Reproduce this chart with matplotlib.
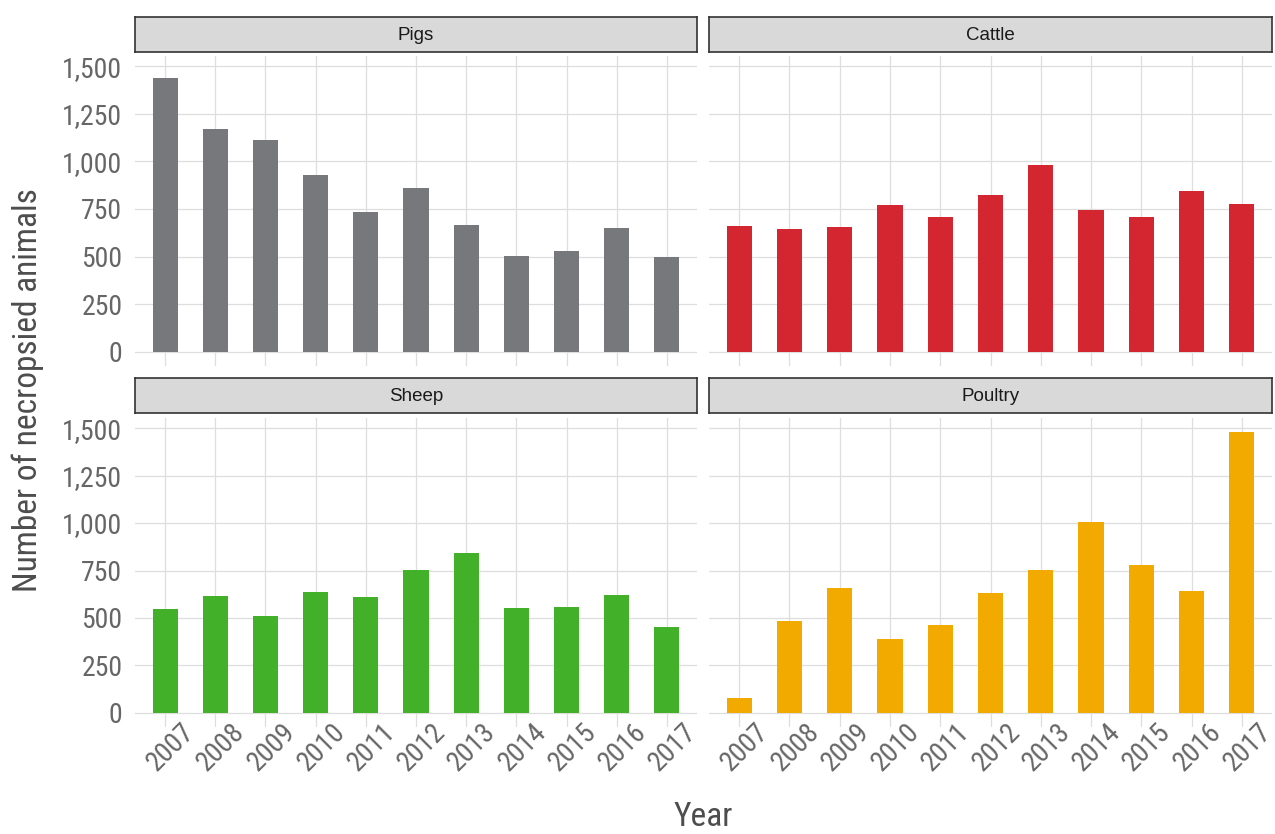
import numpy as np
import matplotlib
matplotlib.use("Agg")
import matplotlib.pyplot as plt
from matplotlib.transforms import ScaledTranslation

years = ["2007", "2008", "2009", "2010", "2011", "2012", "2013", "2014", "2015", "2016", "2017"]
species = ["Pigs", "Cattle", "Sheep", "Poultry"]
pigs = [1435, 1171, 1113, 929, 734, 860, 665, 502, 528, 650, 497]
cattle = [660, 645, 655, 771, 708, 824, 982, 745, 708, 845, 776]
sheep = [545, 614, 508, 635, 608, 751, 840, 550, 556, 619, 455]
poultry = [81, 482, 656, 392, 461, 630, 751, 1004, 777, 641, 1479]
colors = ["#77787b", "#d42630", "#43b02a", "#f2a900"]
yticks = [0, 250, 500, 750, 1000, 1250, 1500]

plt.rcParams["font.family"] = ["Roboto Condensed", "DejaVu Sans"]

W, H = 1275, 834
fig = plt.figure(figsize=(W / 100, H / 100), dpi=100)

def fbox(x0, y0, x1, y1):
    # pixel box (top-left origin) -> figure fraction rect
    return [x0 / W, 1 - y1 / H, (x1 - x0) / W, (y1 - y0) / H]

cols = [(135, 697), (709, 1272)]
rows = [((17, 52), (56, 366)), ((378, 413), (418, 727))]

data = [pigs, cattle, sheep, poultry]
ymax = max(max(d) for d in data)
x = np.arange(len(years))
shift = ScaledTranslation(6 / 100, 0, fig.dpi_scale_trans)

for i, (name, vals, c) in enumerate(zip(species, data, colors)):
    r, k = divmod(i, 2)
    (sy0, sy1), (py0, py1) = rows[r]
    x0, x1 = cols[k]

    ax = fig.add_axes(fbox(x0, py0, x1, py1))
    ax.bar(x, vals, width=0.5, color=c, zorder=2)
    ax.set_xlim(-0.6, len(years) - 0.4)
    ax.set_ylim(-0.05 * ymax, 1.05 * ymax)
    ax.set_yticks(yticks)
    ax.set_xticks(x)
    ax.grid(True, color="#dedede", linewidth=0.9, zorder=0)
    for s in ax.spines.values():
        s.set_visible(False)
    ax.tick_params(length=0, colors="#666666", labelsize=20)
    if k == 0:
        ax.set_yticklabels([f"{v:,}" for v in yticks])
        ax.tick_params(axis="y", pad=9)
    else:
        ax.set_yticklabels([])
    if r == 1:
        ax.set_xticklabels(years, rotation=45, ha="center", va="top")
        ax.tick_params(axis="x", pad=-6)
        for lab in ax.get_xticklabels():
            lab.set_transform(lab.get_transform() + shift)
    else:
        ax.set_xticklabels([])

    sax = fig.add_axes(fbox(x0, sy0, x1, sy1))
    sax.set_facecolor("#d9d9d9")
    sax.set_xticks([])
    sax.set_yticks([])
    for s in sax.spines.values():
        s.set_color("#333333")
        s.set_linewidth(1.2)
    sax.text(0.5, 0.48, name, ha="center", va="center", fontsize=13.5,
             color="#1a1a1a", family=["Liberation Sans", "DejaVu Sans"],
             transform=sax.transAxes)

fig.text(28 / W, 1 - 390 / H, "Number of necropsied animals", rotation=90,
         ha="center", va="center", fontsize=24, color="#4d4d4d")
fig.text(703 / W, 1 - 817 / H, "Year", ha="center", va="center",
         fontsize=24, color="#4d4d4d")

fig.savefig("out.png", dpi=100)
